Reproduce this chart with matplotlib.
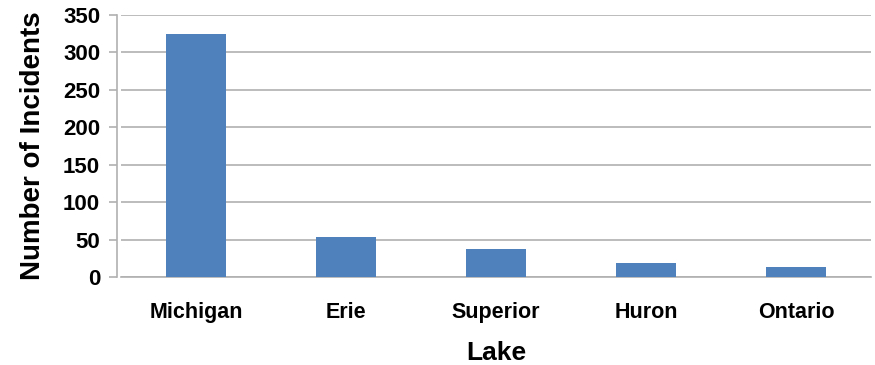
import matplotlib.pyplot as plt

lakes = ["Michigan", "Erie", "Superior", "Huron", "Ontario"]
incidents = [325, 54, 38, 19, 14]
yticks = [0, 50, 100, 150, 200, 250, 300, 350]

plt.rcParams['font.family'] = ['Liberation Sans', 'DejaVu Sans']
plt.rcParams['font.weight'] = 'bold'

fig = plt.figure(figsize=(8.75, 3.65), dpi=100)
ax = fig.add_axes([121 / 875, 1 - 277 / 365, 750 / 875, 262 / 365])

x = list(range(len(lakes)))
ax.bar(x, incidents, width=0.4, color='#4f81bd', zorder=3)

ax.set_xlim(-0.5, len(lakes) - 0.5)
ax.set_ylim(0, 350)
ax.set_yticks(yticks)
ax.set_xticks(x)
ax.set_xticklabels(lakes)

ax.grid(axis='y', color='#b0b0b0', linewidth=1.2, zorder=0)
for side in ['top', 'right']:
    ax.spines[side].set_visible(False)
for side in ['left', 'bottom']:
    ax.spines[side].set_color('#b0b0b0')
    ax.spines[side].set_linewidth(1.2)
ax.spines['left'].set_position(('outward', 3))
ax.tick_params(axis='y', length=6, color='#b0b0b0', width=1.2, pad=6, labelsize=16)
ax.tick_params(axis='x', length=0, pad=18, labelsize=15.5)

ax.set_xlabel("Lake", fontsize=19, fontweight='bold', labelpad=13)
ax.set_ylabel("Number of Incidents", fontsize=20, fontweight='bold', labelpad=12)

fig.savefig("out.png", dpi=100)
